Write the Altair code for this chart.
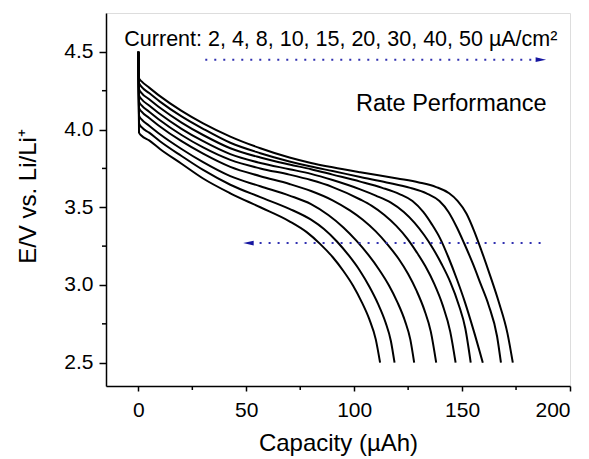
import altair as alt
import pandas as pd

# Discharge curves (capacity in µAh, voltage in V) for each current density (µA/cm²)
currents = [2, 4, 8, 10, 15, 20, 30, 40, 50]

cap_2 = [0, 0.3, 1.5, 5, 10, 20, 30, 42.6, 56.5, 70, 80, 90, 102.8, 120, 130, 138, 144, 148, 152, 155.5, 159, 163, 167, 171, 173.5]
v_2 = [4.5, 4.33, 4.31, 4.27, 4.215, 4.12, 4.04, 3.955, 3.88, 3.82, 3.785, 3.757, 3.725, 3.685, 3.66, 3.63, 3.59, 3.54, 3.46, 3.35, 3.22, 3.06, 2.89, 2.69, 2.5]

cap_4 = [0, 0.3, 1.5, 5, 10, 20, 30, 42.6, 56.5, 70, 80, 90, 102.8, 115, 126, 133.5, 139.5, 143.7, 147.6, 150.9, 154.9, 158.5, 162.3, 166.2, 168]
v_4 = [4.5, 4.30, 4.275, 4.235, 4.18, 4.085, 4.005, 3.915, 3.848, 3.795, 3.762, 3.733, 3.695, 3.66, 3.625, 3.59, 3.54, 3.47, 3.37, 3.27, 3.14, 3.01, 2.87, 2.67, 2.5]

cap_8 = [0, 0.3, 1.5, 5, 10, 20, 30, 42.6, 56.5, 70, 80, 90, 102.8, 113, 121, 127, 132, 136, 139.8, 143.6, 147.5, 151.3, 155.5, 159.6]
v_8 = [4.5, 4.26, 4.235, 4.195, 4.14, 4.045, 3.965, 3.88, 3.82, 3.775, 3.745, 3.71, 3.665, 3.625, 3.585, 3.54, 3.47, 3.39, 3.30, 3.18, 3.04, 2.89, 2.70, 2.5]

cap_10 = [0, 0.3, 1.5, 5, 10, 20, 30, 42.6, 56.5, 70, 80, 90, 102.8, 110, 117, 123, 128, 132.5, 136.5, 140.5, 144.5, 148.5, 151.5, 154]
v_10 = [4.5, 4.22, 4.195, 4.155, 4.10, 4.005, 3.925, 3.842, 3.785, 3.745, 3.715, 3.675, 3.615, 3.575, 3.53, 3.47, 3.40, 3.32, 3.235, 3.135, 3.02, 2.87, 2.72, 2.5]

cap_15 = [0, 0.3, 1.5, 5, 10, 20, 30, 42.6, 56.5, 70, 80, 90, 102.8, 108, 114, 119.5, 124.5, 129, 133, 137, 141, 144.5, 147]
v_15 = [4.5, 4.18, 4.155, 4.115, 4.06, 3.965, 3.885, 3.805, 3.75, 3.71, 3.675, 3.63, 3.55, 3.51, 3.45, 3.38, 3.30, 3.21, 3.12, 3.01, 2.87, 2.70, 2.5]

cap_20 = [0, 0.3, 1.5, 5, 10, 20, 30, 42.6, 56.5, 70, 80, 90, 98, 104, 110, 115.5, 120.5, 125, 129, 132.5, 135.5, 138]
v_20 = [4.5, 4.14, 4.115, 4.075, 4.02, 3.925, 3.845, 3.76, 3.70, 3.65, 3.605, 3.545, 3.48, 3.42, 3.345, 3.26, 3.17, 3.07, 2.96, 2.84, 2.70, 2.5]

cap_30 = [0, 0.3, 1.5, 5, 10, 20, 30, 42.6, 56.5, 70, 80, 88, 95, 101, 106.5, 111.5, 116, 120, 123.5, 126, 127.8]
v_30 = [4.5, 4.09, 4.065, 4.025, 3.97, 3.875, 3.79, 3.70, 3.635, 3.575, 3.52, 3.45, 3.37, 3.285, 3.195, 3.10, 3.00, 2.89, 2.77, 2.65, 2.5]

cap_40 = [0, 0.3, 1.5, 5, 10, 20, 30, 42.6, 56.5, 70, 80, 86, 92, 97.5, 102.5, 107, 111, 114.5, 117, 118.7]
v_40 = [4.5, 4.04, 4.015, 3.98, 3.925, 3.83, 3.74, 3.645, 3.565, 3.49, 3.42, 3.36, 3.28, 3.19, 3.095, 2.99, 2.88, 2.76, 2.64, 2.5]

cap_50 = [0, 0.3, 1.5, 5, 10, 20, 30, 42.6, 56.5, 70, 78, 84.3, 90, 95, 99.5, 103.5, 107, 110, 112]
v_50 = [4.5, 3.98, 3.96, 3.93, 3.875, 3.78, 3.685, 3.59, 3.50, 3.41, 3.34, 3.263, 3.18, 3.09, 2.995, 2.89, 2.78, 2.65, 2.5]

# Arrows (dotted guide lines)
arrow_y = [4.45, 3.27]
arrow_x_start = [31, 52]
arrow_x_end = [186, 189]
head_x = [186.5, 51]
head_dir = ["right", "left"]

x_ticks = [0, 50, 100, 150, 200]
x_minor = [25, 75, 125, 175]
y_ticks = [2.5, 3.0, 3.5, 4.0, 4.5]
y_minor = [2.75, 3.25, 3.75, 4.25]

caps = [cap_2, cap_4, cap_8, cap_10, cap_15, cap_20, cap_30, cap_40, cap_50]
volts = [v_2, v_4, v_8, v_10, v_15, v_20, v_30, v_40, v_50]
rows = []
for cur, cs, vs in zip(currents, caps, volts):
    for i, (c, v) in enumerate(zip(cs, vs)):
        rows.append({"current": cur, "cap": c, "v": v, "i": i})
df = pd.DataFrame(rows)

FONT = "Liberation Sans"
W, H = 464, 373
xs = alt.Scale(domain=[-15, 200], nice=False, zero=False)
ys = alt.Scale(domain=[2.35, 4.75], nice=False, zero=False)

lines = alt.Chart(df).mark_line(color="black", strokeWidth=2, interpolate="monotone").encode(
    x=alt.X("cap:Q", scale=xs, axis=alt.Axis(
        values=x_ticks, title="Capacity (µAh)", format="d", grid=False,
        tickSize=5, tickWidth=1.5, tickColor="black", labelFontSize=21, labelFont=FONT,
        labelColor="black", labelPadding=8, domainColor="black", domainWidth=1.5,
        titleFont=FONT, titleFontSize=24, titleFontWeight="normal", titleColor="black",
        titleBaseline="alphabetic", titleY=64)),
    y=alt.Y("v:Q", scale=ys, axis=alt.Axis(
        values=y_ticks, title="E/V vs. Li/Li⁺", format=".1f", grid=False,
        tickSize=7, tickWidth=1.5, tickColor="black", labelFontSize=21, labelFont=FONT,
        labelColor="black", labelPadding=6, domainColor="black", domainWidth=1.5,
        titleFont=FONT, titleFontSize=24, titleFontWeight="normal", titleColor="black",
        titleAngle=270, titleBaseline="alphabetic", titleX=-71, titleY=183)),
    detail="current:N",
    order="i:Q",
)

xminor_df = pd.DataFrame({"m": x_minor})
yminor_df = pd.DataFrame({"m": y_minor})
xminor = alt.Chart(xminor_df).mark_rule(color="black", strokeWidth=1.5).encode(
    x=alt.X("m:Q", scale=xs), y=alt.value(H), y2=alt.value(H + 4))
yminor = alt.Chart(yminor_df).mark_rule(color="black", strokeWidth=1.5).encode(
    y=alt.Y("m:Q", scale=ys), x=alt.value(0), x2=alt.value(-4))

arr_df = pd.DataFrame({"y": arrow_y, "x1": arrow_x_start, "x2": arrow_x_end,
                       "hx": head_x, "dir": head_dir})
BLUE = "#3030b0"
arrows = alt.Chart(arr_df).mark_rule(color=BLUE, strokeWidth=2, strokeDash=[2, 7]).encode(
    x=alt.X("x1:Q", scale=xs), x2="x2:Q", y=alt.Y("y:Q", scale=ys))
head_r = alt.Chart(arr_df).transform_filter(alt.datum.dir == "right").mark_point(
    shape="M-1,-0.45L1,0L-1,0.45Z", filled=True, color="#1515a0", size=110, opacity=1).encode(
    x=alt.X("hx:Q", scale=xs), y=alt.Y("y:Q", scale=ys))
head_l = alt.Chart(arr_df).transform_filter(alt.datum.dir == "left").mark_point(
    shape="M1,-0.45L-1,0L1,0.45Z", filled=True, color="#1515a0", size=110, opacity=1).encode(
    x=alt.X("hx:Q", scale=xs), y=alt.Y("y:Q", scale=ys))

labels_df = pd.DataFrame({
    "x": [-6.5, 189.2],
    "y": [4.537, 4.12],
    "t": ["Current: 2, 4, 8, 10, 15, 20, 30, 40, 50 µA/cm²", "Rate Performance"],
    "a": ["left", "right"],
})
t_left = alt.Chart(labels_df).transform_filter(alt.datum.a == "left").mark_text(
    align="left", baseline="alphabetic", font=FONT, fontSize=21.5, color="black").encode(
    x=alt.X("x:Q", scale=xs), y=alt.Y("y:Q", scale=ys), text="t:N")
t_right = alt.Chart(labels_df).transform_filter(alt.datum.a == "right").mark_text(
    align="right", baseline="alphabetic", font=FONT, fontSize=23.5, color="black").encode(
    x=alt.X("x:Q", scale=xs), y=alt.Y("y:Q", scale=ys), text="t:N")

chart = alt.layer(lines, xminor, yminor, arrows, head_r, head_l, t_left, t_right).properties(
    width=W, height=H,
    autosize=alt.AutoSizeParams(type="none"),
    padding={"left": 98, "top": 5, "right": 11, "bottom": 70},
).configure_view(stroke="black", strokeWidth=1.5).configure(background="white")

chart.save("out.html", embed_options={"renderer": "svg", "actions": False})
